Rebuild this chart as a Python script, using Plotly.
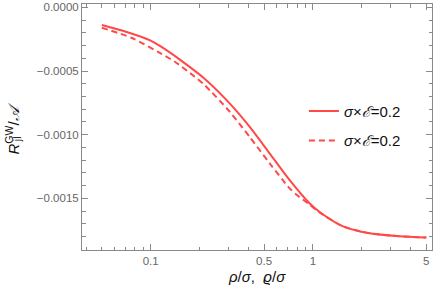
import plotly.graph_objects as go

# data
solid_x = [0.05, 0.072, 0.1, 0.116, 0.155, 0.215, 0.307, 0.407, 0.541, 0.719, 0.954, 1.1, 1.52, 2.24, 3.42, 5.0]
solid_vals = [-0.000139, -0.000196, -0.000261, -0.000309, -0.000420, -0.000560, -0.000754, -0.000937,
              -0.001146, -0.001356, -0.001538, -0.001607, -0.001717, -0.001774, -0.001797, -0.001807]
dashed_x = [0.05, 0.076, 0.111, 0.141, 0.187, 0.215, 0.307, 0.407, 0.541, 0.719, 0.794, 0.954, 1.1, 1.52, 2.24, 3.42, 5.0]
dashed_vals = [-0.000160, -0.000239, -0.000349, -0.000427, -0.000545, -0.000610, -0.000819, -0.001016,
               -0.001224, -0.001421, -0.001472, -0.001548, -0.001610, -0.001717, -0.001774, -0.001797, -0.001807]
series_names = ["<i>σ</i>×<i>ℰ</i>=0.2", "<i>σ</i>×<i>ℰ</i>=0.2"]

x_major = [0.1, 0.5, 1, 5]
x_major_text = ["0.1", "0.5", "1", "5"]
x_minor = [0.04, 0.05, 0.06, 0.07, 0.08, 0.09, 0.2, 0.3, 0.4, 0.6, 0.7, 0.8, 0.9, 2, 3, 4]
y_major = [0.0, -0.0005, -0.0010, -0.0015]
y_major_text = ["0.0000", "−0.0005", "−0.0010", "−0.0015"]
y_minor = [-0.0001, -0.0002, -0.0003, -0.0004, -0.0006, -0.0007, -0.0008, -0.0009,
           -0.0011, -0.0012, -0.0013, -0.0014, -0.0016, -0.0017, -0.0018, -0.0019]

FONT = "Liberation Sans, Arial"
red = "rgb(255,72,72)"
fig = go.Figure()
fig.add_trace(go.Scatter(x=solid_x, y=solid_vals, mode="lines", name=series_names[0],
                         line=dict(color=red, width=2, shape="spline", smoothing=0.7), legendgroup="a"))
fig.add_trace(go.Scatter(x=dashed_x, y=dashed_vals, mode="lines", name=series_names[1],
                         line=dict(color=red, width=2, dash="6px,4px", shape="spline", smoothing=0.7), legendgroup="b"))

axis_common = dict(showline=True, linecolor="#8a8a8a", linewidth=1, mirror="allticks",
                   ticks="inside", tickcolor="#8a8a8a", showgrid=False, zeroline=False, automargin=False,
                   tickfont=dict(family=FONT, size=11.5, color="#666666"))

fig.update_xaxes(type="log", range=[-1.423, 0.734], tickvals=x_major, ticktext=x_major_text,
                 ticklen=6, minor=dict(tickvals=x_minor, ticks="inside", ticklen=3.5, tickcolor="#8a8a8a"),
                 **axis_common)
fig.update_yaxes(range=[-0.001905, 0.000026], tickvals=y_major, ticktext=y_major_text,
                 ticklen=6, minor=dict(tickvals=y_minor, ticks="inside", ticklen=3.5, tickcolor="#8a8a8a"),
                 **axis_common)

title_font = dict(family=FONT, size=15, color="#111")
fig.add_annotation(text="<i>ρ</i>/<i>σ</i>,  <i>ϱ</i>/<i>σ</i>", xref="paper", yref="paper",
                   x=0.5, y=-0.106, xanchor="center", yanchor="middle", showarrow=False, font=title_font)
fig.add_annotation(text="<i>R</i><sup>GW</sup>/<i>𝒜</i>", xref="paper", yref="paper",
                   x=-0.2, y=0.494, xanchor="center", yanchor="middle", textangle=-90,
                   showarrow=False, font=title_font)
fig.add_annotation(text="jl", xref="paper", yref="paper",
                   x=-0.186, y=0.45, xanchor="center", yanchor="middle", textangle=-90,
                   showarrow=False, font=dict(family=FONT, size=10.5, color="#111"))

fig.update_layout(width=436, height=298, margin=dict(l=82, r=4, t=4, b=48),
                  paper_bgcolor="white", plot_bgcolor="white",
                  legend=dict(x=0.634, y=0.631, xanchor="left", yanchor="top", bgcolor="rgba(0,0,0,0)",
                              tracegroupgap=7, font=dict(family=FONT, size=15, color="#111")),
                  showlegend=True)

fig.write_html("out.html", config={"displayModeBar": False},
               post_script="document.body.style.margin='0px';document.body.style.overflow='hidden';")
